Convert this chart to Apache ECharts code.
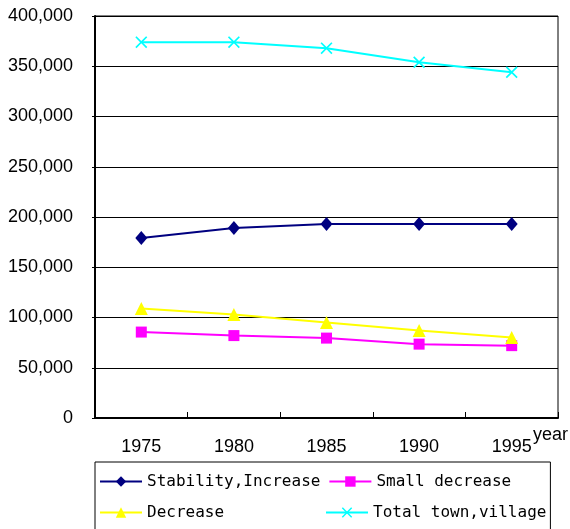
<!DOCTYPE html>
<html>
<head>
<meta charset="utf-8">
<script src="https://cdn.jsdelivr.net/npm/echarts@6/dist/echarts.min.js"></script>
<style>
  html, body { margin: 0; padding: 0; background: #fff; }
  #chart { width: 570px; height: 529px; }
</style>
</head>
<body>
<div id="chart"></div>
<script>
// Number of towns and villages by population trend
const years = ['1975', '1980', '1985', '1990', '1995'];
const stabilityIncrease = [179000, 189000, 193000, 193000, 193000];
const smallDecrease = [85500, 82000, 79500, 73500, 72000];
const decrease = [109000, 103000, 95000, 87000, 80000];
const totalTownVillage = [374000, 374000, 368000, 354000, 344000];
const yTicks = { min: 0, max: 400000, interval: 50000 };

const crossPath = 'path://M0,1L1,0L5,4L9,0L10,1L6,5L10,9L9,10L5,6L1,10L0,9L4,5Z';

const chart = echarts.init(document.getElementById('chart'), null, { renderer: 'canvas' });

function lineSeries(name, data, color, symbol, size) {
  return {
    name: name,
    type: 'line',
    data: data,
    symbol: symbol,
    symbolSize: size,
    lineStyle: { color: color, width: 2 },
    itemStyle: { color: color },
    emphasis: { disabled: true },
    animation: false
  };
}

chart.setOption({
  backgroundColor: '#fff',
  animation: false,
  grid: {
    left: 95, top: 16, width: 463, height: 402,
    show: true, borderColor: '#000', borderWidth: 1,
    containLabel: false,
    outerBoundsMode: 'none'
  },
  xAxis: {
    type: 'category',
    data: years,
    boundaryGap: true,
    name: 'year',
    nameLocation: 'end',
    nameGap: -25,
    nameMoveOverlap: false,
    nameTextStyle: {
      fontFamily: 'Liberation Sans', fontSize: 18, color: '#000',
      verticalAlign: 'top', padding: [8, 0, 0, 0]
    },
    axisLine: { lineStyle: { color: '#000', width: 2 } },
    axisTick: { show: true, inside: true, length: 6, lineStyle: { color: '#000' } },
    axisLabel: { fontFamily: 'Liberation Sans', fontSize: 18, color: '#000', margin: 20 },
    splitLine: { show: false }
  },
  yAxis: {
    type: 'value',
    min: yTicks.min, max: yTicks.max, interval: yTicks.interval,
    axisLine: { show: true, lineStyle: { color: '#000', width: 2 } },
    axisTick: { show: true, length: 3, lineStyle: { color: '#000' } },
    axisLabel: {
      fontFamily: 'Liberation Sans', fontSize: 18, color: '#000', margin: 22,
      formatter: v => v.toLocaleString('en-US')
    },
    splitLine: { show: true, lineStyle: { color: '#000', width: 1 } }
  },
  legend: {
    left: 95, top: 462,
    orient: 'horizontal',
    padding: [8, 4, 6, 4],
    itemGap: 8,
    itemWidth: 42,
    itemHeight: 13,
    borderColor: '#000', borderWidth: 1,
    backgroundColor: '#fff',
    selectedMode: false,
    textStyle: {
      fontFamily: 'DejaVu Sans Mono', fontSize: 16, color: '#000',
      width: 170, lineHeight: 23
    },
    data: ['Stability,Increase', 'Small decrease', 'Decrease', 'Total town,village']
  },
  series: [
    lineSeries('Stability,Increase', stabilityIncrease, '#000080', 'diamond', [12, 14]),
    lineSeries('Small decrease', smallDecrease, '#FF00FF', 'rect', 11),
    lineSeries('Decrease', decrease, '#FFFF00', 'triangle', 13),
    lineSeries('Total town,village', totalTownVillage, '#00FFFF', crossPath, 12)
  ]
});
</script>
</body>
</html>
